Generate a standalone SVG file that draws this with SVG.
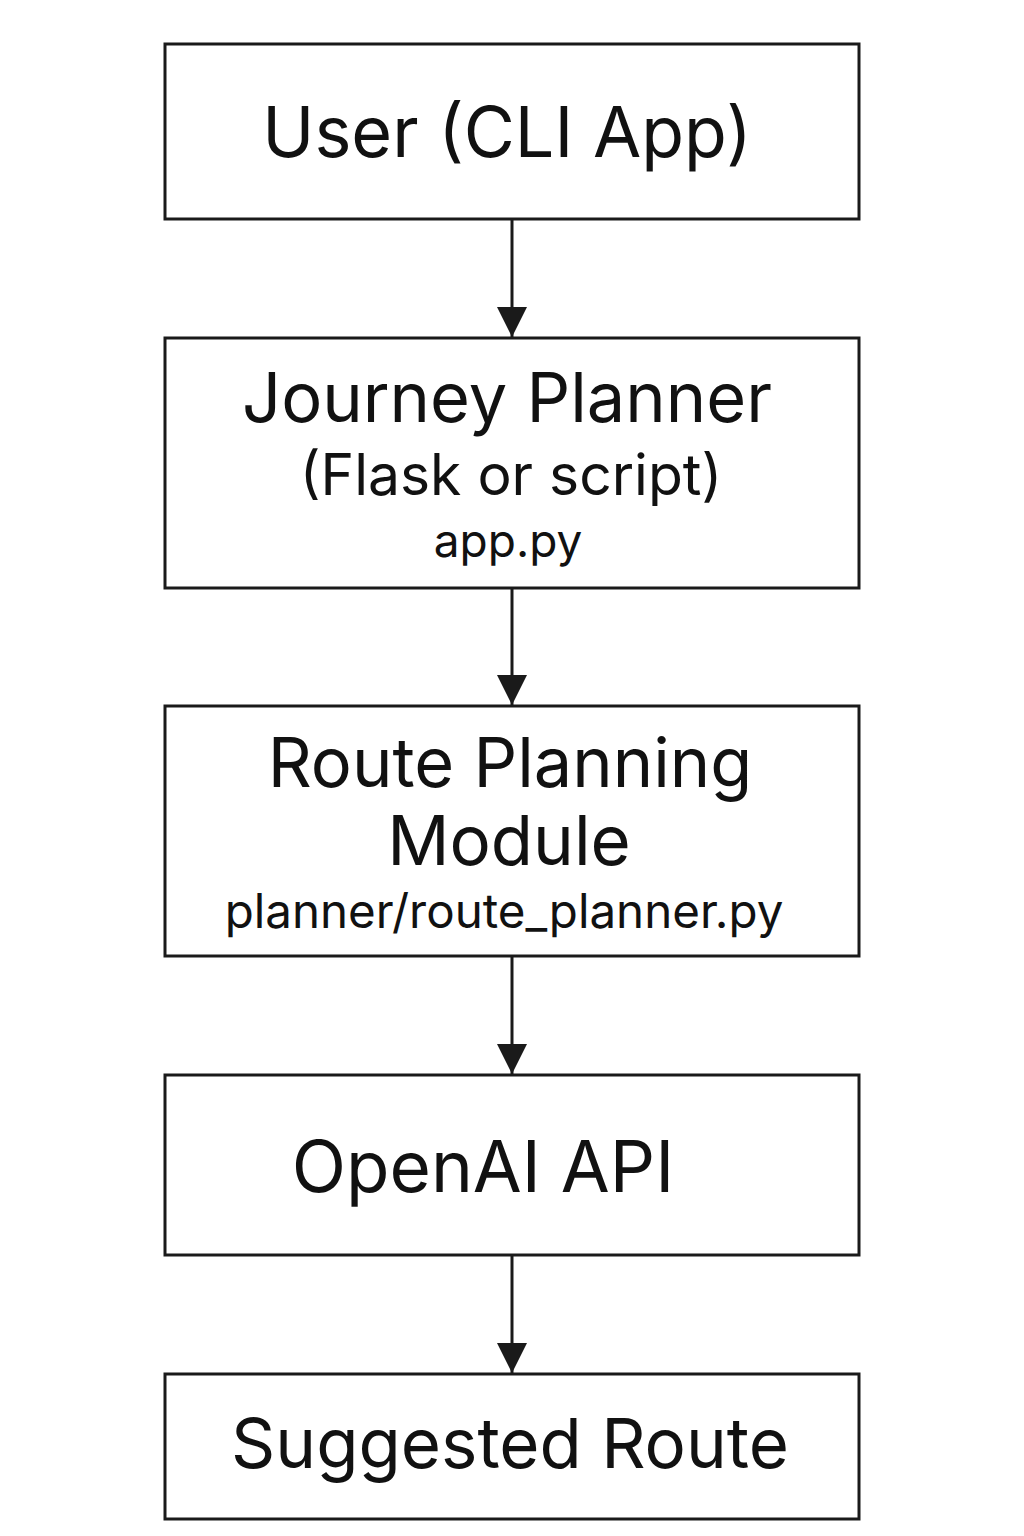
<svg xmlns="http://www.w3.org/2000/svg" width="1024" height="1536" viewBox="0 0 1024 1536">
<defs>
<marker id="ah" viewBox="0 0 30 30" markerWidth="30" markerHeight="30" refX="30" refY="15" orient="auto" markerUnits="userSpaceOnUse">
<path d="M0,0 L30,15 L0,30 Z" fill="#1a1a1a"/>
</marker>
<style>
.box{fill:#fff;stroke:#1a1a1a;stroke-width:3}
.t{font-family:Inter,"Noto Sans",sans-serif;fill:#111;text-anchor:middle}
.edge{stroke:#1a1a1a;stroke-width:3;fill:none;marker-end:url(#ah)}
</style>
</defs>
<rect width="1024" height="1536" fill="#fff"/>
<g id="n1"><rect class="box" x="165" y="44" width="694" height="175"/><text class="t" x="507" y="157" font-size="70">User (CLI App)</text></g>
<g id="n2"><rect class="box" x="165" y="338" width="694" height="250"/><text class="t" x="507" y="422" font-size="68.5">Journey Planner</text><text class="t" x="511" y="495" font-size="57">(Flask or script)</text><text class="t" x="508" y="557" font-size="46">app.py</text></g>
<g id="n3"><rect class="box" x="165" y="706" width="694" height="250"/><text class="t" x="510" y="787" font-size="68.5">Route Planning</text><text class="t" x="509" y="865" font-size="69">Module</text><text class="t" x="504" y="928" font-size="47.5">planner/route_planner.py</text></g>
<g id="n4"><rect class="box" x="165" y="1075" width="694" height="180"/><text class="t" x="483" y="1192" font-size="71">OpenAI API</text></g>
<g id="n5"><rect class="box" x="165" y="1374" width="694" height="145"/><text class="t" x="510" y="1468" font-size="69">Suggested Route</text></g>
<g id="edges">
<line class="edge" x1="512" y1="220" x2="512" y2="337"/>
<line class="edge" x1="512" y1="589" x2="512" y2="705"/>
<line class="edge" x1="512" y1="957" x2="512" y2="1074"/>
<line class="edge" x1="512" y1="1256" x2="512" y2="1373"/>
</g>
</svg>
